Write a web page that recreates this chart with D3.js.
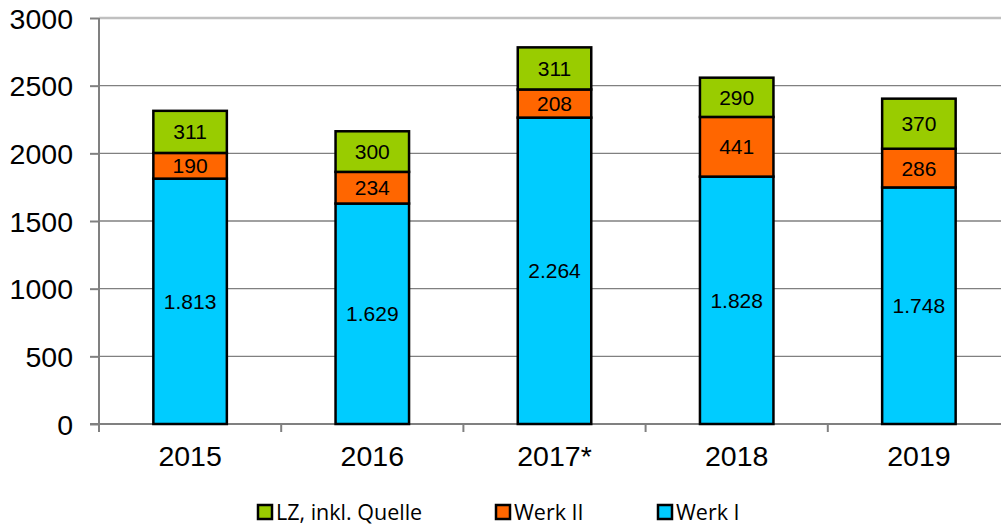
<!DOCTYPE html>
<html><head><meta charset="utf-8">
<script src="https://cdn.jsdelivr.net/npm/d3@7"></script>
<style>body{margin:0;background:#fff;}svg{display:block;}</style>
</head><body>
<svg id="c" width="1001" height="526"></svg>
<script>
const categories = ["2015","2016","2017*","2018","2019"];
const werkI = [1813,1629,2264,1828,1748];
const werkII = [190,234,208,441,286];
const lz = [311,300,311,290,370];
const yTicks = [0,500,1000,1500,2000,2500,3000];
const seriesNames = ["Werk I","Werk II","LZ, inkl. Quelle"];
const legendOrder = ["LZ, inkl. Quelle","Werk II","Werk I"];
const colors = {"Werk I":"#00CCFF","Werk II":"#FF6600","LZ, inkl. Quelle":"#99CC00"};

const svg = d3.select("#c");
const x0 = 99, x1 = 1010, yTop = 18, yBot = 424;
const x = d3.scaleBand().domain(categories).range([x0,x1]).paddingInner(0).paddingOuter(0);
const y = d3.scaleLinear().domain([0,3000]).range([yBot,yTop]);

// gridlines
svg.append("g").selectAll("line").data(yTicks.filter(t=>t>0)).join("line")
  .attr("x1",x0).attr("x2",1001).attr("y1",d=>y(d)).attr("y2",d=>y(d))
  .attr("stroke",d=>d===3000?"#c0c0c0":"#808080")
  .attr("stroke-width",d=>d===3000?2.5:1.3);

// y axis
const yAxis = d3.axisLeft(y).tickValues(yTicks).tickSize(9).tickPadding(17).tickFormat(d3.format("d"));
const gy = svg.append("g").attr("transform",`translate(${x0},0)`).call(yAxis);
gy.select(".domain").remove();
gy.selectAll(".tick line").attr("stroke","#808080").attr("stroke-width",2);
gy.selectAll(".tick text").attr("font-family","Liberation Sans, Arial, sans-serif").attr("font-size",28.5).attr("fill","#000").attr("dy","0.36em");
svg.append("line").attr("x1",x0).attr("x2",x0).attr("y1",yTop).attr("y2",yBot+8).attr("stroke","#808080").attr("stroke-width",2);

// x axis
const xAxis = d3.axisBottom(x).tickSize(0).tickPadding(22);
const gx = svg.append("g").attr("transform",`translate(0,${yBot})`).call(xAxis);
gx.select(".domain").remove();
gx.selectAll(".tick text").attr("font-family","Liberation Sans, Arial, sans-serif").attr("font-size",28.5).attr("fill","#000");
svg.append("line").attr("x1",x0-9).attr("x2",1001).attr("y1",yBot).attr("y2",yBot).attr("stroke","#808080").attr("stroke-width",2);
svg.append("g").selectAll("line").data(categories).join("line")
  .attr("x1",d=>x(d)).attr("x2",d=>x(d)).attr("y1",yBot).attr("y2",yBot+8)
  .attr("stroke","#808080").attr("stroke-width",2);

// stacked data
const rows = categories.map((c,i)=>({cat:c,"Werk I":werkI[i],"Werk II":werkII[i],"LZ, inkl. Quelle":lz[i]}));
const stack = d3.stack().keys(seriesNames)(rows);
const bw = 73.5;
const fmtDE = v => v>=1000 ? d3.format(",")(v).replace(/,/g,".") : String(v);

const layers = svg.append("g").selectAll("g").data(stack).join("g").attr("fill",d=>colors[d.key]);
layers.selectAll("rect").data(d=>d).join("rect")
  .attr("x",d=>x(d.data.cat)+x.bandwidth()/2-bw/2)
  .attr("width",bw)
  .attr("y",d=>y(d[1]))
  .attr("height",d=>y(d[0])-y(d[1]))
  .attr("stroke","#000").attr("stroke-width",2.5);

const labels = svg.append("g");
stack.forEach(layer=>{
  labels.selectAll(null).data(layer).join("text")
    .attr("x",d=>x(d.data.cat)+x.bandwidth()/2)
    .attr("y",d=>y((d[0]+d[1])/2))
    .attr("dy","0.36em")
    .attr("text-anchor","middle")
    .attr("font-family","Liberation Sans, Arial, sans-serif")
    .attr("font-size",21)
    .attr("fill","#000")
    .text(d=>fmtDE(d.data[layer.key]));
});

// legend
const legX = [257,495,657];
const lg = svg.append("g").selectAll("g").data(legendOrder).join("g")
  .attr("transform",(d,i)=>`translate(${legX[i]},505)`);
lg.append("rect").attr("x",1).attr("y",0).attr("width",14).attr("height",14)
  .attr("fill",d=>colors[d]).attr("stroke","#000").attr("stroke-width",2.5);
lg.append("text").attr("x",19).attr("y",15).attr("font-family","Open Sans, sans-serif")
  .attr("font-size",21.5).attr("fill","#000").text(d=>d);
</script>
</body></html>
